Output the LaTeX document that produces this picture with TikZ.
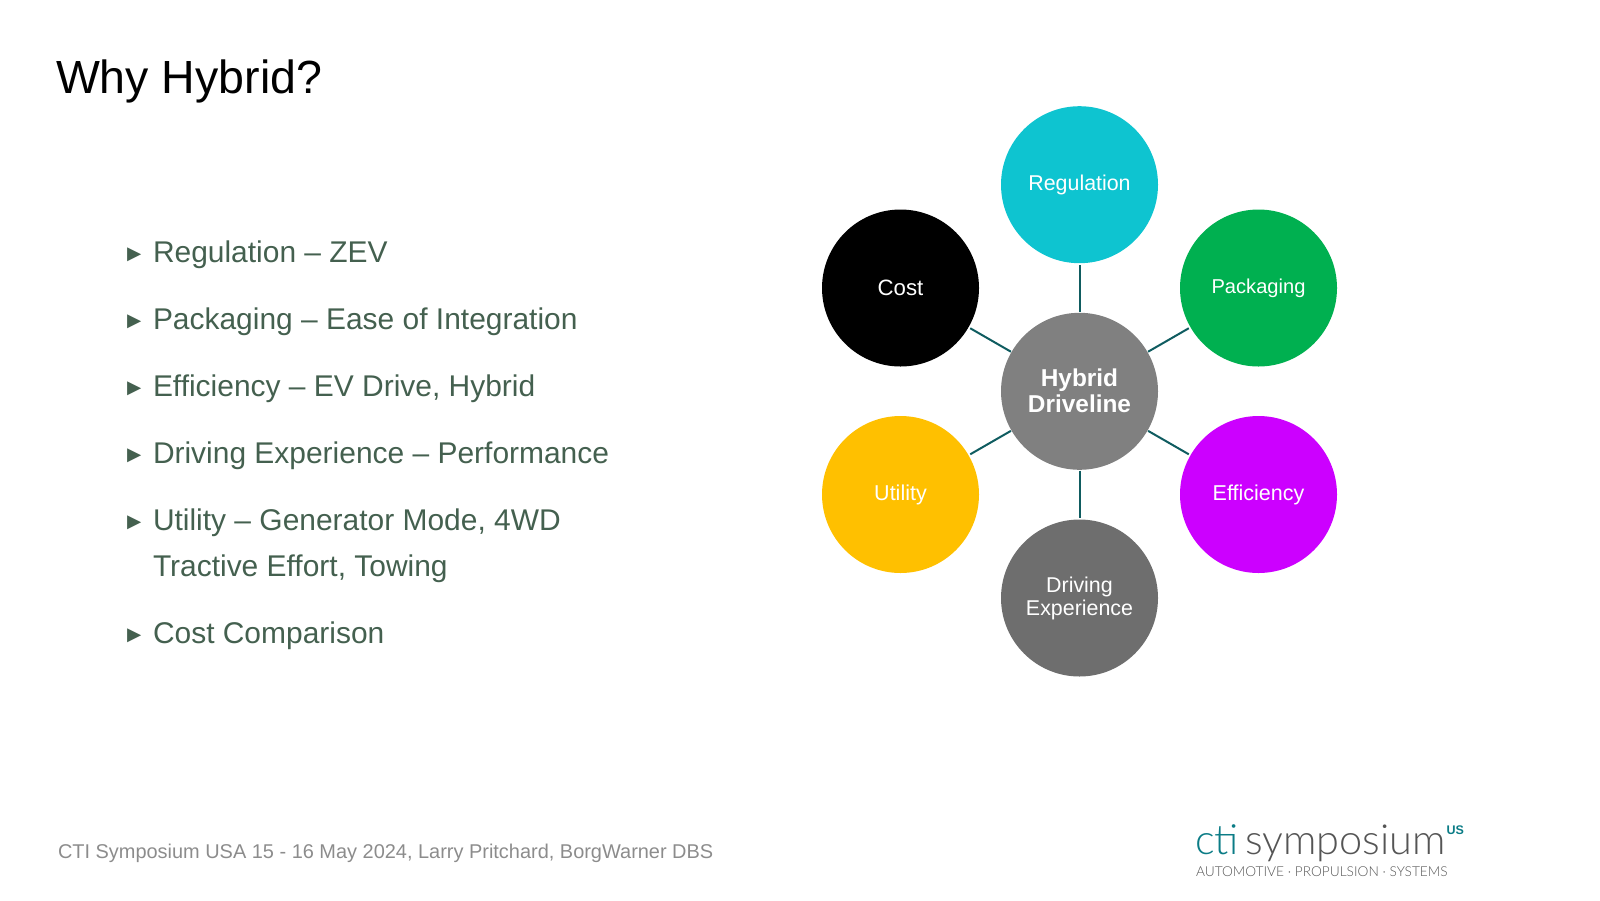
\documentclass[tikz,border=0pt]{standalone}
\usepackage{fontspec}
\setmainfont{Liberation Sans}
\newfontfamily\logofont{Lato Light}
\usetikzlibrary{positioning}
\definecolor{myslate}{HTML}{44604F}
\definecolor{mylink}{HTML}{0F5C60}
\definecolor{myfoot}{HTML}{8C8C8C}
\definecolor{myteal}{HTML}{0B7C86}
\definecolor{mylogo}{HTML}{555555}
\tikzset{
x=1pt,y=-1pt,
my node/.style={inner sep=0pt,outer sep=0pt},
bubble/.style={my node,circle,minimum size=157pt,text=white,align=center,
  font=\fontsize{21.4}{23.5}\selectfont},
link/.style={draw=mylink,line width=2pt,shorten >=2pt,shorten <=0.7pt},
item/.style={my node,anchor=base west,text=myslate,font=\fontsize{29.95}{36}\selectfont},
itemmark/.style={my node,anchor=base west,text=myslate,font=\fontsize{23.5}{26}\selectfont},
}
\begin{document}
\begin{tikzpicture}
\useasboundingbox (0,0) rectangle (1600,900);
\node[my node,anchor=base west,font=\fontsize{46.5}{50}\selectfont] (title) at (56,93.5) {Why Hybrid?};
% list on the left
\foreach \nm/\ypos/\txt in {a/262/Regulation -- ZEV,b/329/Packaging -- Ease of Integration,
  c/396/{Efficiency -- EV Drive, Hybrid},d/463/Driving Experience -- Performance,
  e/530/{Utility -- Generator Mode, 4WD},f/643/Cost Comparison}{
  \node[itemmark] (mark\nm) at (122.5,\ypos-0.5) {►};
  \node[item] (item\nm) at (153,\ypos) {\txt};
}
\node[item] (iteme2) at (153,576) {Tractive Effort, Towing};
% bubbles
\node[bubble,fill=black!50,font=\fontsize{24.4}{26.5}\selectfont\bfseries] (hub) at (1079.5,391.3) {\raisebox{1.5pt}{Hybrid}\\[-0.5pt]\raisebox{1.5pt}{Driveline}};
\node[bubble,fill={rgb,255:red,14;green,196;blue,208}] (reg) at (1079.5,184.7) {\raisebox{-1.5pt}{Regulation}};
\node[bubble,fill={rgb,255:red,0;green,176;blue,80},font=\fontsize{20.1}{23}\selectfont] (pack) at (1258.5,288) {\raisebox{-1.5pt}{Packaging}};
\node[bubble,fill={rgb,255:red,204;green,0;blue,255},font=\fontsize{21.5}{24}\selectfont] (eff) at (1258.5,494.5) {\raisebox{-2pt}{Efficiency}};
\node[bubble,fill=black!57] (drive) at (1079.5,598) {\raisebox{-2pt}{Driving}\\\raisebox{-1.5pt}{Experience}};
\node[bubble,fill={rgb,255:red,255;green,192;blue,0},font=\fontsize{21.5}{24}\selectfont] (util) at (900.5,494.5) {\raisebox{-2pt}{Utility}};
\node[bubble,fill=black,font=\fontsize{22.2}{24}\selectfont] (cost) at (900.5,288) {\raisebox{1.5pt}{Cost}};
\foreach \other in {reg,pack,eff,drive,util,cost}
  \draw[link] (hub) -- (\other);
% footer and logo
\node[my node,anchor=base west,text=myfoot,font=\fontsize{19.94}{24}\selectfont] (foot) at (58,858) {CTI Symposium USA 15 - 16 May 2024, Larry Pritchard, BorgWarner DBS};
\node[my node,anchor=base west,text=myteal,font=\logofont\fontsize{41.5}{44}\selectfont] (cti) at (1195,854) {cti};
\node[my node,anchor=base west,text=mylogo,font=\logofont\fontsize{41.5}{44}\selectfont] (symp) at (1245,854) {symposium};
\node[my node,anchor=base west,text=myteal,font=\fontsize{12.5}{13}\selectfont\bfseries] (us) at (1446.5,834) {US};
\node[my node,anchor=base west,text=mylogo,font=\logofont\fontsize{13.7}{15}\selectfont] (tag) at (1196,876.5) {AUTOMOTIVE · PROPULSION · SYSTEMS};
\end{tikzpicture}
\end{document}
